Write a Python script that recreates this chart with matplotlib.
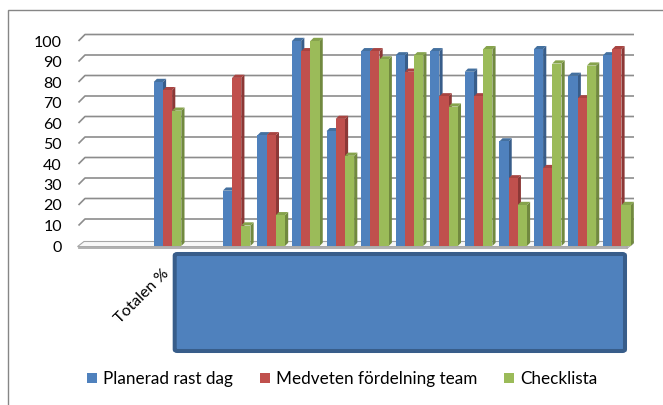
import matplotlib
matplotlib.use("Agg")
import matplotlib.pyplot as plt
from matplotlib.patches import Polygon, Patch, FancyBboxPatch, Rectangle
import numpy as np

# ---- data -------------------------------------------------------------
categories = ["", "", "Totalen %", "", "", "", "", "", "", "", "", "", "", "", "", ""]
series_names = ["Planerad rast dag", "Medveten fördelning team", "Checklista"]
planerad = [None, None, 80, None, 27, 54, 100, 56, 95, 93, 95, 85, 51, 96, 83, 93]
medveten = [None, None, 76, None, 82, 54, 95, 62, 95, 85, 73, 73, 33, 38, 72, 96]
checklista = [None, None, 66, None, 10, 15, 100, 44, 91, 93, 68, 96, 20, 89, 88, 20]
y_ticks = list(range(0, 101, 10))

# ---- style ------------------------------------------------------------
front_cols = ["#4F81BD", "#C0504D", "#9BBB59"]
side_cols = ["#385D8A", "#8C3836", "#71893F"]
top_cols = ["#44709F", "#A84441", "#86A34C"]
FONT = ["Lato", "DejaVu Sans"]
plt.rcParams["font.family"] = FONT

W, H = 663, 405
fig = plt.figure(figsize=(W / 100, H / 100), dpi=100)
fig.patch.set_facecolor("white")

def fx(x):
    return x / W

def fy(y):
    return 1 - y / H

# plot area: value 0 sits at pixel row 246, 2.05 px per unit
ymax = 112
ax = fig.add_axes([fx(80), fy(246), 553 / W, 2.05 * ymax / H])
ax.set_xlim(-0.5, len(categories) - 0.5)
ax.set_ylim(0, ymax)
ax.patch.set_visible(False)
for s in ax.spines.values():
    s.set_visible(False)

px_x = 553 / len(categories)
px_y = 2.05

# back-wall gridlines with perspective kink at the left
gdx, gdy = 6.5 / px_x, 6.5 / px_y
x0 = -0.5 - 1.5 / px_x
x1 = len(categories) - 0.5 + 1 / px_x
for v in y_ticks[1:]:
    ax.plot([x0, x0 + gdx, x1], [v, v + gdy, v + gdy], color="#8C8C8C",
            lw=1.2, clip_on=False, zorder=1, solid_capstyle="butt")

# floor plate
fdx = 6.5 / px_x
fl, fr = -0.5 - 2.5 / px_x, len(categories) - 0.5 - 6 / px_x
ax.add_patch(Polygon([(fl, -0.3), (fr, -0.3), (fr + fdx, 2.2), (fl + fdx, 2.2)],
                     closed=True, facecolor="#F7F7F7", edgecolor="#A6A6A6",
                     lw=0.8, clip_on=False, zorder=1.2))
ax.add_patch(Polygon([(fl, -0.3), (fr, -0.3), (fr, -1.2), (fl, -1.2)], closed=True,
                     facecolor="#E0E0E0", edgecolor="#A6A6A6", lw=0.6,
                     clip_on=False, zorder=1.2))
ax.add_patch(Polygon([(fr, -0.3), (fr + fdx, 2.2), (fr + fdx, 1.3), (fr, -1.2)],
                     closed=True, facecolor="#C8C8C8", edgecolor="#A6A6A6", lw=0.6,
                     clip_on=False, zorder=1.2))

# 3-D styled columns
bw = 9.2 / px_x
bdx, bdy = 3.2 / px_x, 3.2 / px_y
shift = 1.1 / px_x
xs = np.arange(len(categories))
for k, vals in enumerate([planerad, medveten, checklista]):
    idx = [i for i, v in enumerate(vals) if v is not None]
    hv = np.array([vals[i] for i in idx], dtype=float)
    left = xs[idx] + shift + (k - 1.5) * bw
    ax.bar(left, hv, width=bw, align="edge", color=front_cols[k],
           edgecolor="none", zorder=4)
    for xl, v in zip(left, hv):
        xr = xl + bw
        ax.add_patch(Polygon([(xr, 0), (xr + bdx, bdy), (xr + bdx, v + bdy), (xr, v)],
                             closed=True, facecolor=side_cols[k], edgecolor="none",
                             zorder=2, clip_on=False))
        ax.add_patch(Polygon([(xl, v), (xr, v), (xr + bdx, v + bdy), (xl + bdx, v + bdy)],
                             closed=True, facecolor=top_cols[k], edgecolor="none",
                             zorder=3, clip_on=False))

# axes ticks and labels
ax.set_yticks(y_ticks)
ax.set_yticklabels([str(t) for t in y_ticks], fontsize=11.5)
ax.tick_params(axis="y", length=0, pad=13)
ax.set_xticks(xs)
ax.set_xticklabels(categories, rotation=45, ha="right", rotation_mode="anchor",
                   va="center", fontsize=11.5)
ax.tick_params(axis="x", length=0, pad=18)

# label box over the category axis
box = FancyBboxPatch((fx(174.7), fy(351)), fx(625) - fx(174.7), fy(254) - fy(351),
                     boxstyle="round,pad=0,rounding_size=0.004",
                     transform=fig.transFigure, facecolor="#4F81BD",
                     edgecolor="#385D8A", lw=2.9, zorder=5)
fig.patches.append(box)

# chart border
fig.patches.append(Rectangle((fx(8), fy(H + 20)), 1.2, fy(10) - fy(H + 20),
                             transform=fig.transFigure, facecolor="none",
                             edgecolor="#868686", lw=1.0))

handles = [Patch(facecolor=c, edgecolor="none") for c in front_cols]
fig.legend(handles, series_names, loc="center", bbox_to_anchor=(fx(342), fy(379)),
           ncol=3, frameon=False, fontsize=12.3, handlelength=0.6,
           handleheight=0.6, handletextpad=0.35, columnspacing=1.55)

fig.savefig("out.png", dpi=100)
